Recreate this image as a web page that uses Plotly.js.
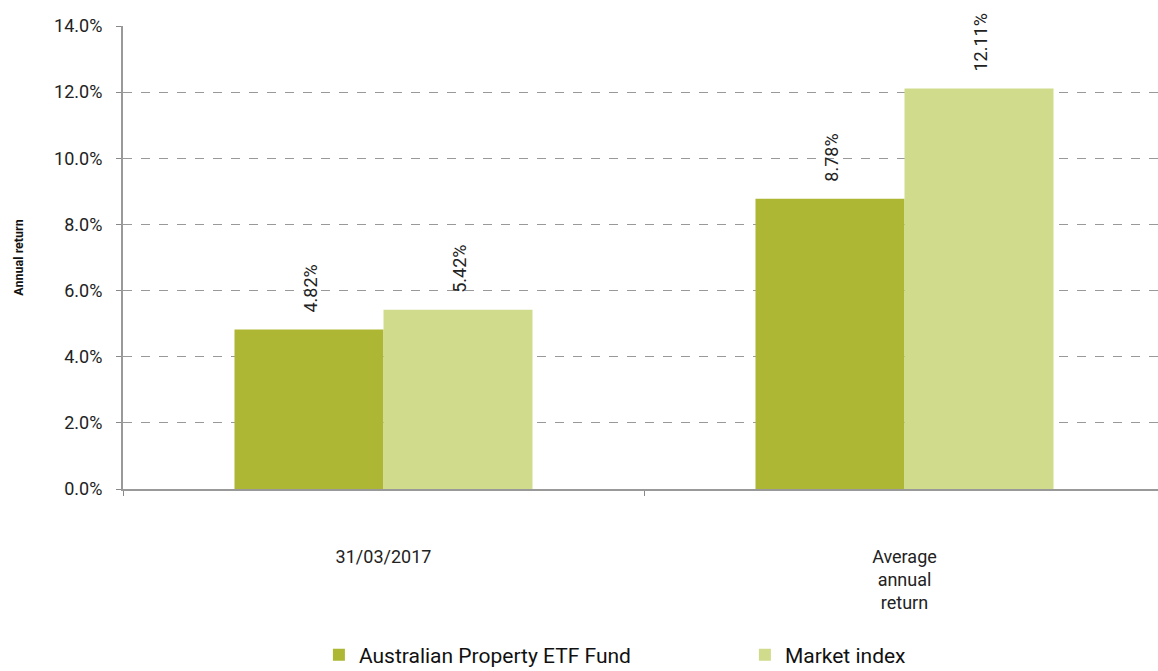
<!DOCTYPE html>
<html>
<head>
<meta charset="utf-8">
<script src="https://cdn.plot.ly/plotly-3.0.1.min.js"></script>
<style>html,body{margin:0;padding:0;overflow:hidden;background:#fff;}</style>
</head>
<body>
<div id="chart"></div>
<script>
var categories = ['31/03/2017', 'Average<br>annual<br>return'];
var seriesNames = ['Australian Property ETF Fund', 'Market index'];
var fundValues = [4.82, 8.78];
var indexValues = [5.42, 12.11];
var seriesColors = ['#ADB733', '#D0DC8C'];
var yTicks = [0, 2, 4, 6, 8, 10, 12, 14];

var allValues = [fundValues, indexValues];
var traces = allValues.map(function (vals, i) {
  return {
    type: 'bar',
    name: seriesNames[i],
    x: categories,
    y: vals,
    marker: {color: seriesColors[i]},
    hoverinfo: 'none'
  };
});

var barShift = 74.5;
var annotations = [];
allValues.forEach(function (vals, i) {
  vals.forEach(function (v, j) {
    annotations.push({
      xref: 'x', yref: 'y',
      x: categories[j], y: v,
      xshift: (i === 0 ? -barShift : barShift) + 2,
      yshift: 15,
      text: v.toFixed(2) + '%',
      textangle: -90,
      showarrow: false,
      xanchor: 'center', yanchor: 'bottom',
      font: {family: 'Roboto', size: 18, color: '#222'}
    });
  });
});

var layout = {
  width: 1166, height: 671,
  margin: {l: 123, r: 1, t: 26, b: 182, autoexpand: false},
  paper_bgcolor: '#fff', plot_bgcolor: '#fff',
  barmode: 'group',
  bargap: 0.428,
  bargroupgap: 0,
  showlegend: true,
  legend: {
    orientation: 'h',
    x: 0.188, xanchor: 'left',
    y: -0.3145, yanchor: 'top',
    entrywidth: 381, entrywidthmode: 'pixels',
    itemwidth: 30,
    font: {family: 'Roboto', size: 21, color: '#111'},
    traceorder: 'normal'
  },
  xaxis: {
    type: 'category',
    tickson: 'boundaries',
    ticks: 'outside', ticklen: 5, tickcolor: '#888', tickwidth: 1,
    showline: true, linecolor: '#999', linewidth: 2,
    showgrid: false,
    ticklabelstandoff: 50,
    tickfont: {family: 'Roboto', size: 18, color: '#222'},
    fixedrange: true
  },
  yaxis: {
    range: [0, 14],
    tickvals: yTicks,
    ticktext: yTicks.map(function (t) { return t.toFixed(1) + '%'; }),
    ticks: 'outside', ticklen: 5, tickcolor: '#888', tickwidth: 1,
    showline: true, linecolor: '#999', linewidth: 2,
    showgrid: true, gridcolor: '#999', griddash: 'dash', gridwidth: 1,
    zeroline: false,
    ticklabelstandoff: 10,
    tickfont: {family: 'Roboto', size: 18, color: '#222'},
    title: {text: '<b>Annual return</b>', font: {family: 'Roboto', size: 12.5, color: '#111'}, standoff: 28},
    fixedrange: true
  },
  annotations: annotations,
  font: {family: 'Roboto'}
};

Plotly.newPlot('chart', traces, layout, {displayModeBar: false, staticPlot: true});
</script>
</body>
</html>
